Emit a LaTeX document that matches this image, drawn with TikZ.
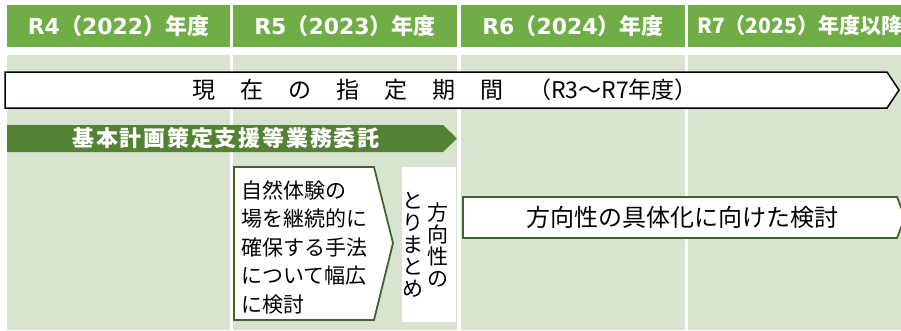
\documentclass[tikz,border=0pt]{standalone}
\usepackage{fontspec}
\setmainfont{Noto Sans CJK JP}
\newfontfamily\latfont{DejaVu Sans}
\usetikzlibrary{positioning}
\definecolor{hdrgreen}{HTML}{70AD47}
\definecolor{bodygreen}{HTML}{D9E4D0}
\definecolor{darkgreen}{HTML}{548235}
\definecolor{edgegreen}{HTML}{3F6329}
\newcommand{\kgap}{\hspace{25pt}}

\begin{document}
\begin{tikzpicture}[x=1pt,y=-1pt,
    hdrcell/.style={fill=hdrgreen},
    bodycell/.style={fill=bodygreen},
    hdrlabel/.style={text=white,font=\bfseries\fontsize{22}{22}\selectfont,inner sep=0pt},
    arrowline/.style={draw=edgegreen,line width=1.8pt,fill=white},
    plain/.style={font=\fontsize{21}{28.5}\selectfont,inner sep=0pt},
    vert/.style={font=\fontsize{21}{22}\selectfont,inner sep=0pt,align=center}]
  \useasboundingbox (0,0) rectangle (901,330);
  \clip (0,0) rectangle (901,330);

  % year columns
  \fill[hdrcell] (7,5) rectangle (230,47);
  \fill[hdrcell] (233,5) rectangle (457,47);
  \fill[hdrcell] (461,5) rectangle (685,47);
  \fill[hdrcell] (688,5) rectangle (901,47);
  \fill[bodycell] (7,55) rectangle (230,330);
  \fill[bodycell] (233,55) rectangle (457,330);
  \fill[bodycell] (461,55) rectangle (685,330);
  \fill[bodycell] (688,55) rectangle (901,330);

  \node[hdrlabel] (r4) at (118.5,26) {{\latfont R4}（{\latfont 2022}）年度};
  \node[hdrlabel] (r5) at (345,26) {{\latfont R5}（{\latfont 2023}）年度};
  \node[hdrlabel] (r6) at (573,26) {{\latfont R6}（{\latfont 2024}）年度};
  \node[hdrlabel,font=\bfseries\fontsize{21}{21}\selectfont,anchor=west] (r7) at (697,26) {R7（2025）年度以降};

  % current period
  \draw[line width=1.5pt,fill=white] (5,72) -- (887,72) -- (899,90) -- (887,108) -- (5,108) -- cycle;
  \node[font=\fontsize{23}{23}\selectfont,inner sep=0pt] (kikan) at (445,90)
    {現\kgap 在\kgap の\kgap 指\kgap 定\kgap 期\kgap 間\kgap （R3～R7年度）};

  % commissioned work
  \fill[darkgreen] (7,125) -- (443,125) -- (457,138.5) -- (443,152) -- (7,152) -- cycle;
  \node[text=white,font=\bfseries\fontsize{22}{22}\selectfont\addfontfeature{LetterSpace=8},inner sep=0pt] (itaku) at (226,138.5)
    {基本計画策定支援等業務委託};

  % R5 study
  \draw[arrowline] (234,167) -- (374,167) -- (393,243) -- (374,320) -- (234,320) -- cycle;
  \node[plain,anchor=north west,align=left] (hoho) at (241,180)
    {自然体験の\\場を継続的に\\確保する手法\\について幅広\\に検討};

  \fill[white] (402,167) rectangle (456,322);
  \node[vert] (hoko) at (438,245) {方\\向\\性\\の};
  \node[vert] (matome) [left=4pt of hoko] {と\\り\\ま\\と\\め};

  % R6 onwards
  \draw[arrowline] (463,197) -- (897,197) -- (905,217.5) -- (897,238) -- (463,238) -- cycle;
  \node[font=\fontsize{24}{24}\selectfont,inner sep=0pt] (gutai) at (682,217.5)
    {方向性の具体化に向けた検討};
\end{tikzpicture}
\end{document}
